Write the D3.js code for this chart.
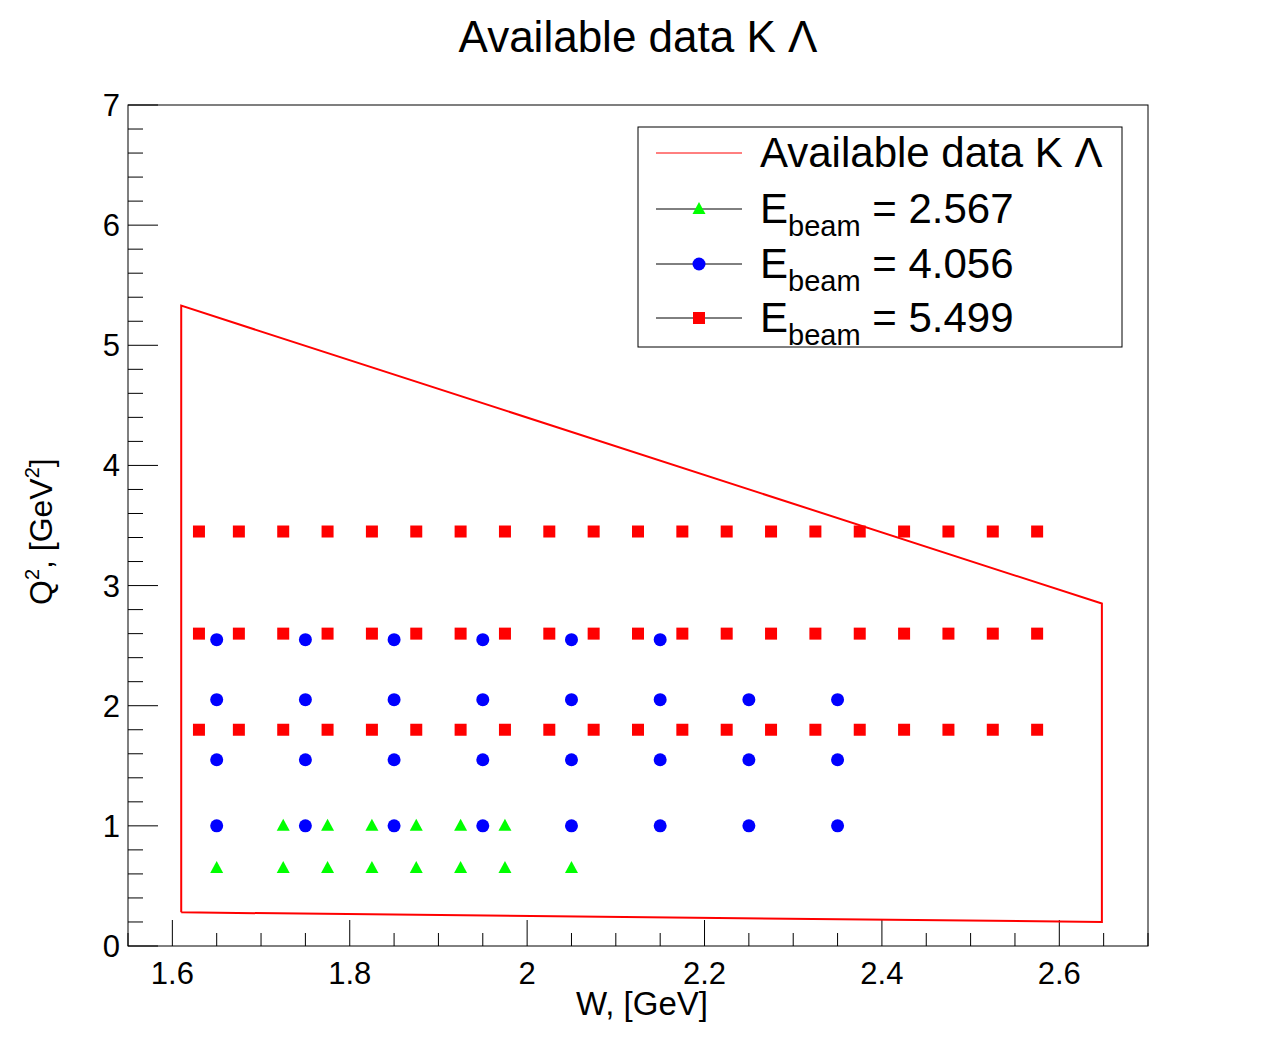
<!DOCTYPE html>
<html><head><meta charset="utf-8">
<script src="https://d3js.org/d3.v7.min.js"></script>
<style>body{margin:0;background:#fff}text{font-family:"Liberation Sans",Arial,sans-serif}</style>
</head><body><svg id="c" width="1276" height="1052"></svg>
<script>
// data
var redW = [1.63,1.675,1.725,1.775,1.825,1.875,1.925,1.975,2.025,2.075,2.125,2.175,2.225,2.275,2.325,2.375,2.425,2.475,2.525,2.575];
var redQ2 = [3.45, 2.6, 1.8];
var blueRows = [
  {q2: 2.55, w: [1.65,1.75,1.85,1.95,2.05,2.15]},
  {q2: 2.05, w: [1.65,1.75,1.85,1.95,2.05,2.15,2.25,2.35]},
  {q2: 1.55, w: [1.65,1.75,1.85,1.95,2.05,2.15,2.25,2.35]},
  {q2: 1.0,  w: [1.65,1.75,1.85,1.95,2.05,2.15,2.25,2.35]}
];
var greenRows = [
  {q2: 1.0,  w: [1.725,1.775,1.825,1.875,1.925,1.975]},
  {q2: 0.65, w: [1.65,1.725,1.775,1.825,1.875,1.925,1.975,2.05]}
];
var boundary = [[1.61,0.28],[1.61,5.33],[2.648,2.85],[2.648,0.2],[1.61,0.28]];
var xTicks = [1.6,1.8,2.0,2.2,2.4,2.6];
var yTicks = [0,1,2,3,4,5,6,7];

var svg = d3.select("#c");
var L = 128, R = 1148, T = 105, B = 946;
var x = d3.scaleLinear().domain([1.55, 2.7]).range([L, R]);
var y = d3.scaleLinear().domain([0, 7]).range([B, T]);

svg.append("rect").attr("x", L).attr("y", T).attr("width", R-L).attr("height", B-T)
  .attr("fill", "none").attr("stroke", "#000");

// ticks (inside, ROOT style)
d3.range(1.55, 2.701, 0.05).forEach(function(v) {
  var major = Math.abs(v*5 - Math.round(v*5)) < 1e-6;
  var len = major ? 26 : 13;
  svg.append("line").attr("x1", x(v)).attr("x2", x(v)).attr("y1", B).attr("y2", B-len).attr("stroke", "#000");
});
d3.range(0, 7.001, 0.2).forEach(function(v) {
  var major = Math.abs(v - Math.round(v)) < 1e-6;
  var len = major ? 30 : 15;
  svg.append("line").attr("x1", L).attr("x2", L+len).attr("y1", y(v)).attr("y2", y(v)).attr("stroke", "#000");
});
xTicks.forEach(function(v) {
  svg.append("text").attr("x", x(v)).attr("y", B+38).attr("text-anchor", "middle")
    .attr("font-size", 31).text(d3.format("~g")(v));
});
yTicks.forEach(function(v) {
  svg.append("text").attr("x", L-8).attr("y", y(v)+11).attr("text-anchor", "end")
    .attr("font-size", 31).text(v);
});

svg.append("text").attr("x", 638).attr("y", 52).attr("text-anchor", "middle").attr("font-size", 44)
  .text("Available data K \u039B");
svg.append("text").attr("x", 708).attr("y", 1015).attr("text-anchor", "end").attr("font-size", 33)
  .text("W, [GeV]");
var yl = svg.append("text").attr("transform", "translate(52,605) rotate(-90)").attr("font-size", 32);
yl.append("tspan").text("Q");
yl.append("tspan").attr("dy", -13).attr("font-size", 20).text("2");
yl.append("tspan").attr("dy", 13).text(", [GeV");
yl.append("tspan").attr("dy", -13).attr("font-size", 20).text("2");
yl.append("tspan").attr("dy", 13).text("]");

// boundary
svg.append("path").attr("d", d3.line().x(function(d){return x(d[0]);}).y(function(d){return y(d[1]);})(boundary))
  .attr("fill", "none").attr("stroke", "#ff0000").attr("stroke-width", 2);

function sq(g, cx, cy) { g.append("rect").attr("x", cx-6).attr("y", cy-6).attr("width", 12).attr("height", 12).attr("fill", "#ff0000"); }
function ci(g, cx, cy) { g.append("circle").attr("cx", cx).attr("cy", cy).attr("r", 6.5).attr("fill", "#0000ff"); }
function tr(g, cx, cy) { g.append("path").attr("d", "M"+cx+","+(cy-7)+"L"+(cx+6.5)+","+(cy+5)+"L"+(cx-6.5)+","+(cy+5)+"Z").attr("fill", "#00ff00"); }

var g = svg.append("g");
redQ2.forEach(function(q) { redW.forEach(function(w) { sq(g, x(w), y(q)); }); });
greenRows.forEach(function(r) { r.w.forEach(function(w) { tr(g, x(w), y(r.q2)); }); });
blueRows.forEach(function(r) { r.w.forEach(function(w) { ci(g, x(w), y(r.q2)); }); });

// legend
var lg = svg.append("g");
lg.append("rect").attr("x", 638).attr("y", 127).attr("width", 484).attr("height", 220)
  .attr("fill", "#fff").attr("stroke", "#000");
var entries = [
  {y: 153, label: "Available data K \u039B", marker: null},
  {y: 209, e: "2.567", marker: tr},
  {y: 264, e: "4.056", marker: ci},
  {y: 318, e: "5.499", marker: sq}
];
entries.forEach(function(en) {
  lg.append("line").attr("x1", 656).attr("x2", 742).attr("y1", en.y).attr("y2", en.y)
    .attr("stroke", en.marker ? "#000" : "#ff0000");
  var t = lg.append("text").attr("x", 760).attr("y", en.y+14).attr("font-size", 42);
  if (!en.marker) { t.text(en.label); return; }
  en.marker(lg, 699, en.y);
  t.append("tspan").text("E");
  t.append("tspan").attr("dy", 13).attr("font-size", 29).text("beam");
  t.append("tspan").attr("dy", -13).text(" = " + en.e);
});
</script></body></html>
